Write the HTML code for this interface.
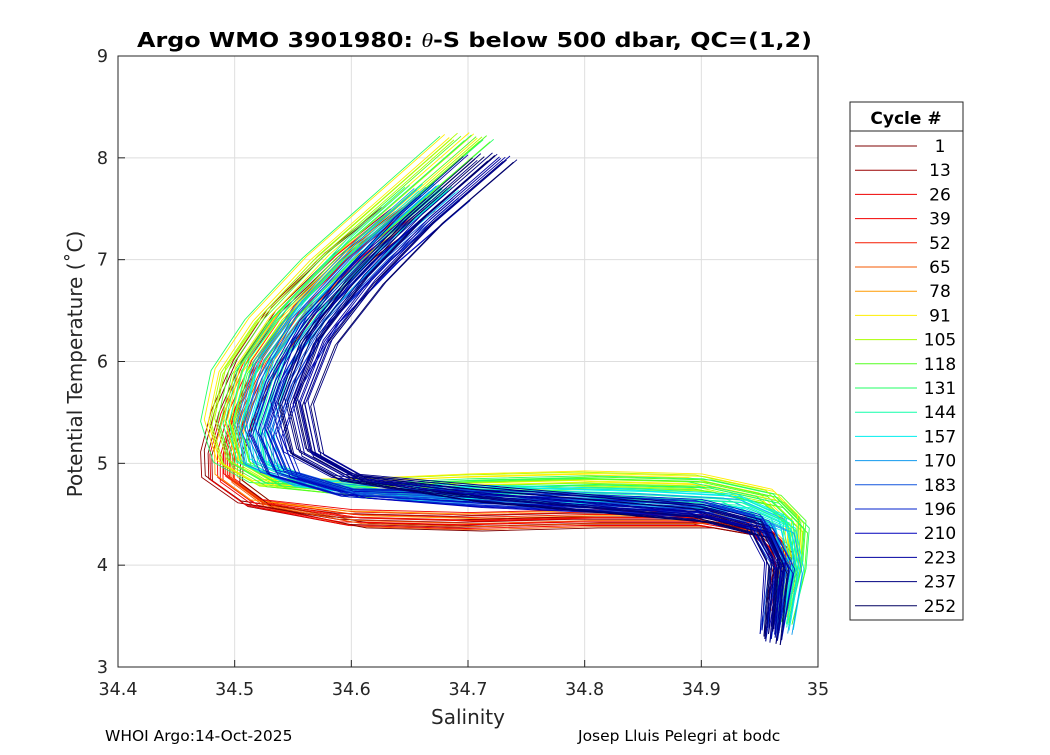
<!DOCTYPE html>
<html><head><meta charset="utf-8"><style>
body{margin:0;background:#fff}
svg text{font-family:"DejaVu Sans","Liberation Sans",sans-serif}
</style></head><body>
<svg id="chart" width="1050" height="750" viewBox="0 0 1050 750" xmlns="http://www.w3.org/2000/svg">
<rect width="1050" height="750" fill="#fff"/>
<rect x="118" y="56" width="700" height="611" fill="#fff" stroke="none"/>
<g id="grid"></g>
<g id="curves"></g>
<rect x="118" y="56" width="700" height="611" fill="none" stroke="#262626" stroke-width="1"/>
<g id="ticks"></g>
<text x="137" y="47" textLength="675" lengthAdjust="spacingAndGlyphs" font-size="20" font-weight="bold" fill="#000">Argo WMO 3901980: <tspan font-style="italic" font-weight="normal" font-family="Liberation Serif">θ</tspan>-S below 500 dbar,  QC=(1,2)</text>
<text x="468" y="724" text-anchor="middle" font-size="20" fill="#262626">Salinity</text>
<text transform="translate(82,364) rotate(-90)" text-anchor="middle" font-size="20" fill="#262626">Potential Temperature (˚C)</text>
<text x="105" y="741" font-size="15.5" fill="#000">WHOI Argo:14-Oct-2025</text>
<text x="578" y="741" font-size="15.5" fill="#000">Josep Lluis Pelegri at bodc</text>
<g id="legend">
<rect x="850" y="102" width="113" height="518" fill="#fff" stroke="#262626" stroke-width="1"/>
<line x1="850" y1="131" x2="963" y2="131" stroke="#262626" stroke-width="1"/>
<text x="906" y="124" text-anchor="middle" font-size="17" font-weight="bold" fill="#000">Cycle #</text>
</g>
</svg>
<script>
const xTicks=[34.4,34.5,34.6,34.7,34.8,34.9,35];
const xTickLabels=["34.4","34.5","34.6","34.7","34.8","34.9","35"];
const yTicks=[3,4,5,6,7,8,9];
const cycles=[1,13,26,39,52,65,78,91,105,118,131,144,157,170,183,196,210,223,237,252];
const cycleColors=["#7f0000","#9a0000","#ee0000","#f20000","#f51a00","#f55a00","#ff9a00","#ffee00","#aaff00","#55ff22","#22ff66","#11ffaa","#00eeee","#1199ee","#1155dd","#0022cc","#0000bb","#0000a0","#000080","#000060"];
// group curves: salinity / temperature
const redS=[34.65,34.6,34.55,34.52,34.5,34.49,34.49,34.52,34.6,34.7,34.8,34.9,34.95,34.968,34.972,34.965];
const redT=[7.5,7.05,6.5,6.0,5.5,5.1,4.85,4.6,4.45,4.42,4.45,4.45,4.35,4.15,3.9,3.6];
const yelS=[34.7,34.63,34.58,34.53,34.5,34.49,34.5,34.53,34.6,34.7,34.8,34.9,34.96,34.982,34.98,34.97];
const yelT=[8.2,7.5,7.0,6.4,5.9,5.4,5.0,4.8,4.75,4.8,4.83,4.8,4.65,4.4,4.0,3.5];
const cyaS=[34.67,34.62,34.57,34.53,34.515,34.52,34.56,34.65,34.75,34.85,34.93,34.97,34.978,34.97];
const cyaT=[7.7,7.2,6.6,6.0,5.4,5.0,4.8,4.7,4.68,4.65,4.6,4.4,4.0,3.4];
const bluS=[34.68,34.62,34.57,34.54,34.525,34.54,34.6,34.7,34.8,34.9,34.95,34.97,34.96];
const bluT=[7.6,7.0,6.4,5.8,5.3,4.9,4.7,4.65,4.6,4.55,4.4,4.0,3.3];
const navS=[34.72,34.66,34.61,34.57,34.55,34.56,34.6,34.7,34.8,34.9,34.95,34.965,34.96];
const navT=[8.0,7.4,6.8,6.2,5.6,5.1,4.85,4.7,4.6,4.5,4.35,4.0,3.3];
// per-profile offsets (salinity, temperature)
const offS=[-0.02,-0.012,-0.006,0,0.005,0.01,0.016,0.022,-0.016,0.012,-0.003,0.003,0.008,-0.009,0.019,-0.024,0.001,-0.014,0.007,0.013];
const offT=[0.05,-0.04,0.02,-0.02,0.06,-0.06,0.03,-0.03,0,0.01,-0.05,0.04,-0.01,0.07,-0.07,0.02,0.08,-0.02,0.015,-0.035];
const groups=[[redS,redT,[0,1,2,3,4,5,6]],[yelS,yelT,[7,8,9,10]],[cyaS,cyaT,[11,12,13]],[bluS,bluT,[14,15,16]],[navS,navT,[17,18,19]]];
const X=s=>118+(s-34.4)/0.6*700;
const Y=t=>667-(t-3)/6*611;
const NS="http://www.w3.org/2000/svg";
function mk(tag,attrs,parent){const e=document.createElementNS(NS,tag);for(const k in attrs)e.setAttribute(k,attrs[k]);parent.appendChild(e);return e;}
const grid=document.getElementById('grid'),ticks=document.getElementById('ticks');
xTicks.forEach((v,i)=>{
  const g=mk('line',{x1:X(v),x2:X(v),y1:56,y2:667,stroke:'#dedede','stroke-width':1},grid);
  
  
  mk('line',{x1:X(v),x2:X(v),y1:667,y2:660,stroke:'#262626'},ticks);
  const t=mk('text',{x:X(v),y:695,'text-anchor':'middle','font-size':17.5,fill:'#262626'},ticks);
  t.textContent=xTickLabels[i];
  
  
});
yTicks.forEach(v=>{
  const g=mk('line',{x1:118,x2:818,y1:Y(v),y2:Y(v),stroke:'#dedede','stroke-width':1},grid);
  
  
  mk('line',{x1:118,x2:125,y1:Y(v),y2:Y(v),stroke:'#262626'},ticks);
  const t=mk('text',{x:108,y:Y(v)+6,'text-anchor':'end','font-size':17.5,fill:'#262626'},ticks);
  t.textContent=String(v);
  
  
});
const curves=document.getElementById('curves');
groups.forEach(([S,T,idx])=>{
  offS.forEach((ds,k)=>{
    const ci=idx[k%idx.length];
    const pts=S.map((s,j)=>{
      const w=j/(S.length-1);
      const dss=ds*(1-0.6*w), dtt=offT[k]*(w>0.5?1.2:0.6);
      return X(s+dss).toFixed(1)+','+Y(T[j]+dtt).toFixed(1);
    }).join(' ');
    const p=mk('polyline',{points:pts,fill:'none',stroke:cycleColors[ci],'stroke-width':0.9,'stroke-linejoin':'round'},curves);
    
    
  });
});
const leg=document.getElementById('legend');
cycles.forEach((c,i)=>{
  const y=146+i*24.2;
  const l=mk('line',{x1:855,x2:917,y1:y,y2:y,stroke:cycleColors[i],'stroke-width':1},leg);
  
  
  const t=mk('text',{x:940,y:y+6,'text-anchor':'middle','font-size':17,fill:'#000'},leg);
  t.textContent=String(c);
  
  
});
</script>
</body></html>
